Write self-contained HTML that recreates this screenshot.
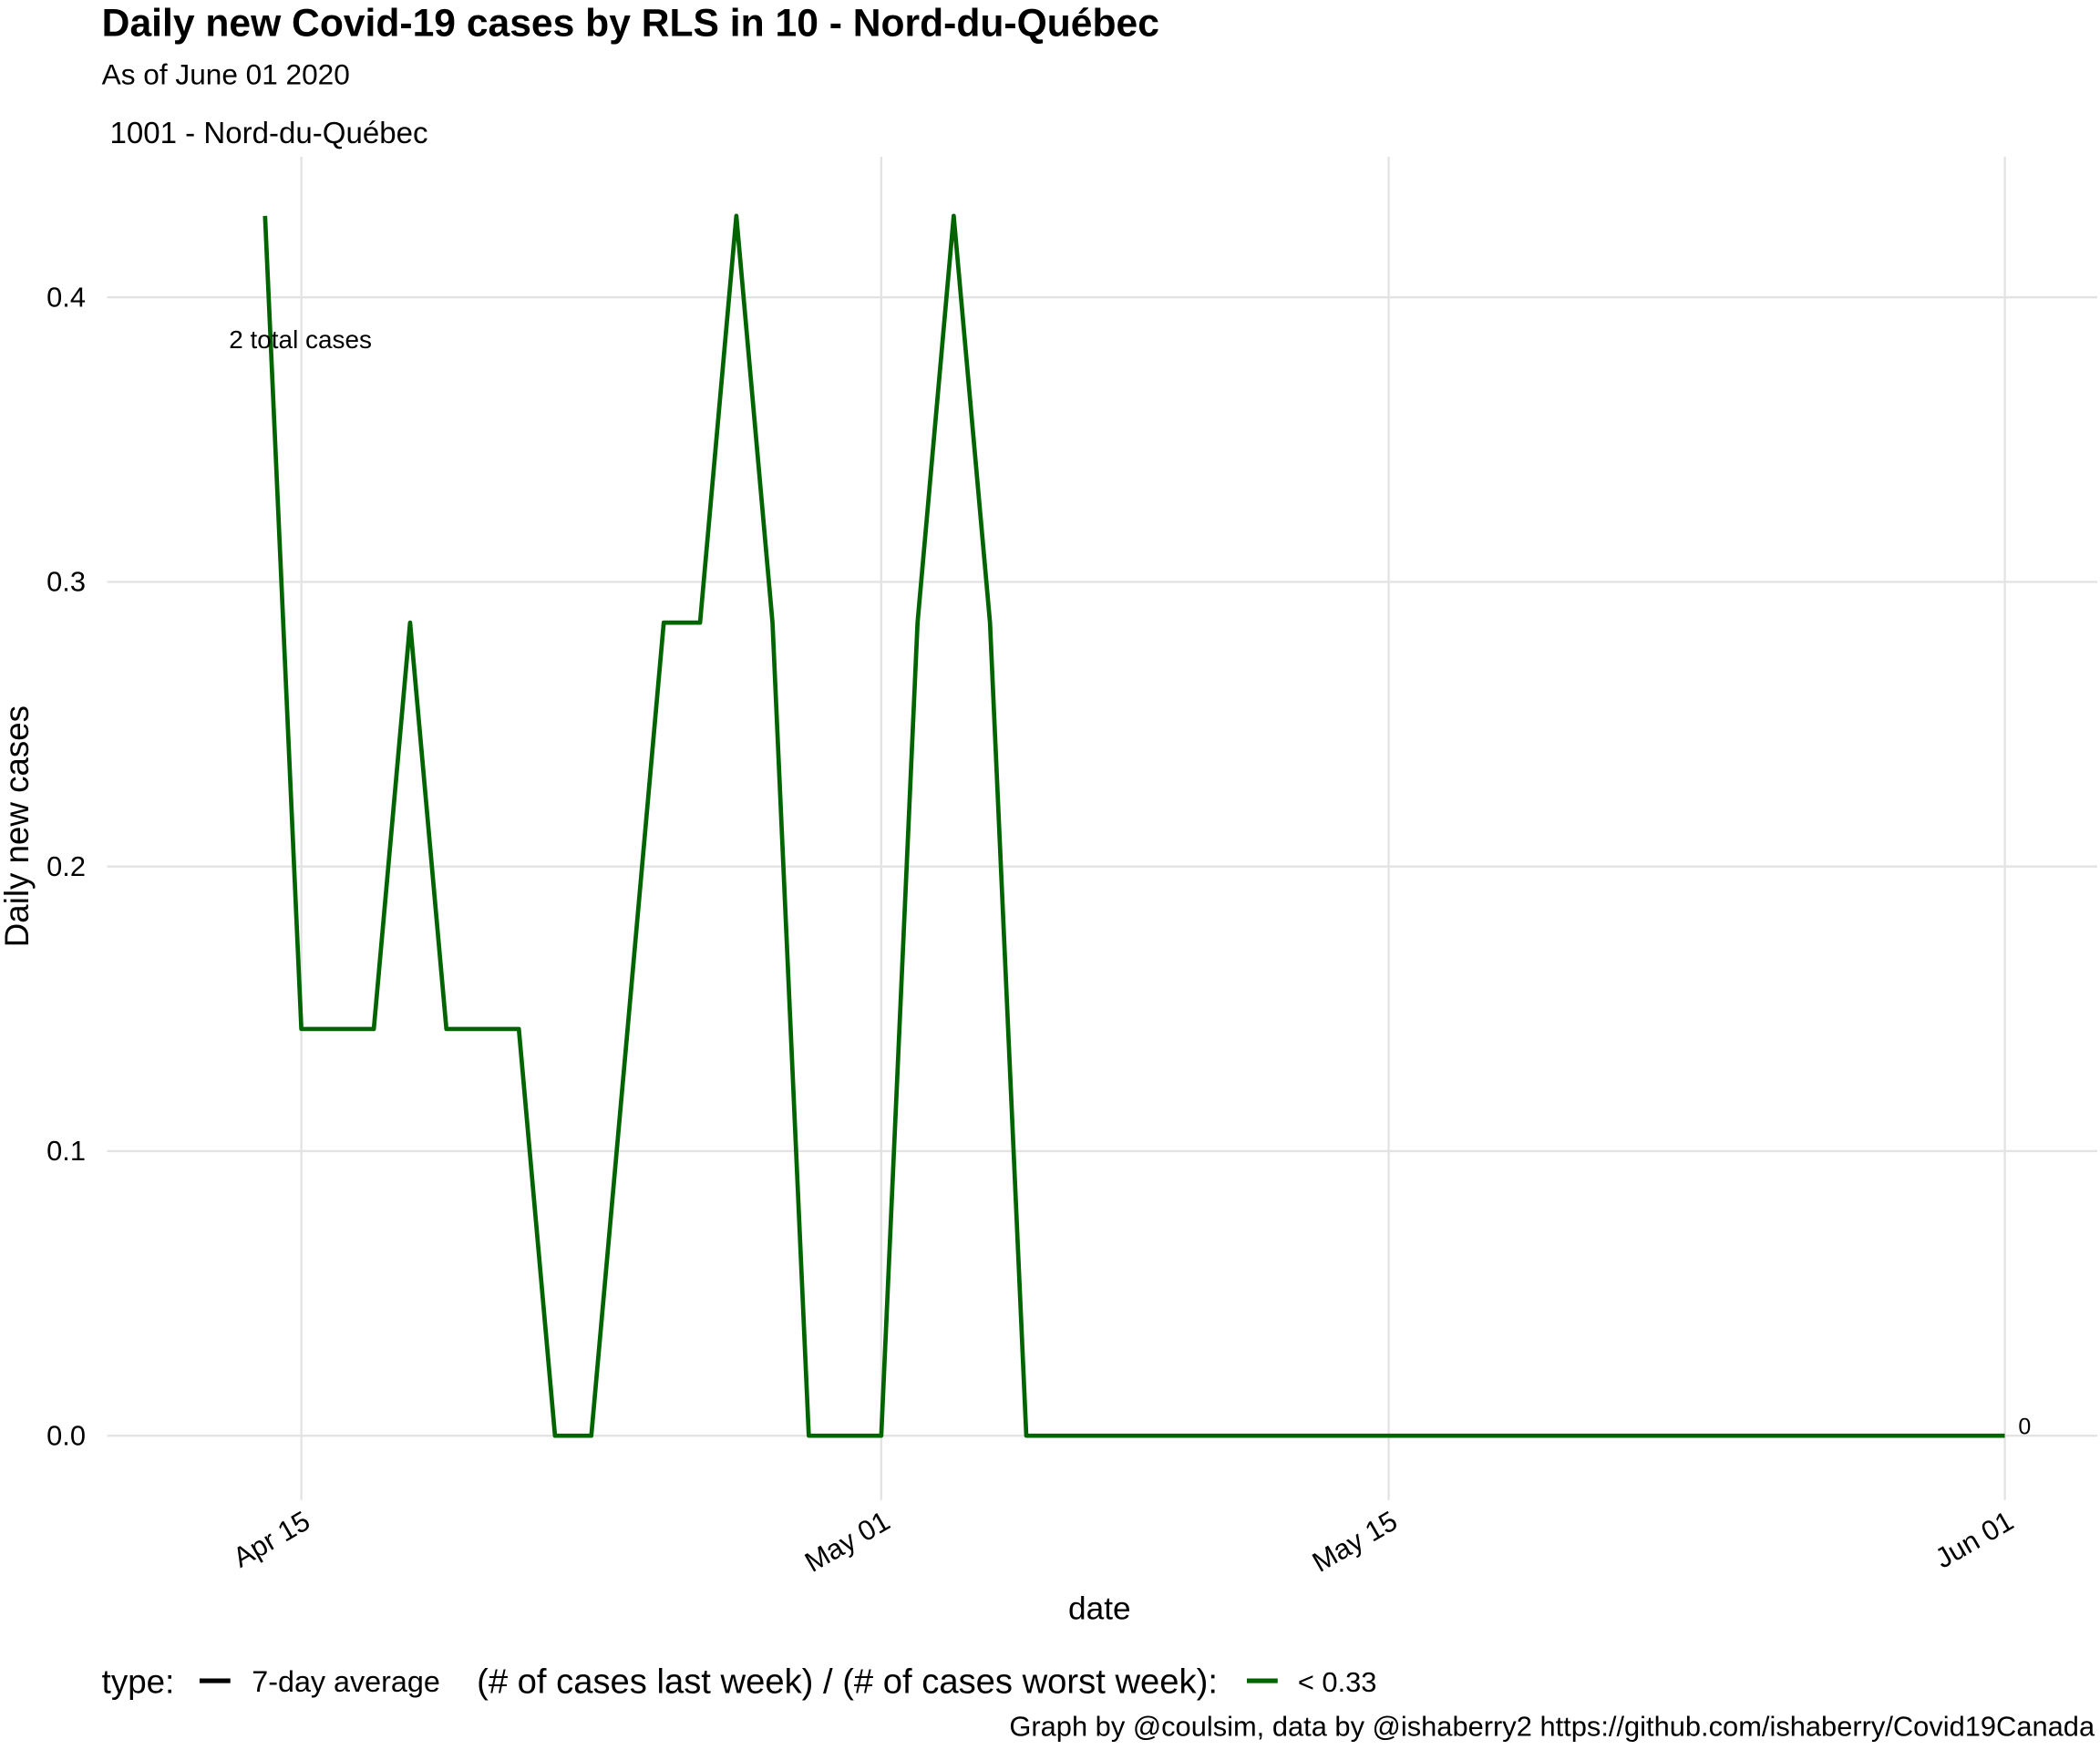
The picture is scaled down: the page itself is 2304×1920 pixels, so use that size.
<!DOCTYPE html>
<html><head><meta charset="utf-8"><style>
html,body{margin:0;padding:0;background:#fff}
svg{display:block;font-family:"Liberation Sans",sans-serif}
</style></head><body>
<svg width="2304" height="1920" viewBox="0 0 1568 1306.67">
<text x="76" y="27" font-size="29" font-weight="bold" fill="#000">Daily new Covid-19 cases by RLS in 10 - Nord-du-Québec</text>
<text x="76" y="63" font-size="21.5" fill="#000">As of June 01 2020</text>
<text x="82" y="107" font-size="22.5" fill="#000">1001 - Nord-du-Québec</text>
<g id="grid"></g>
<g id="yticks"></g>
<g id="xticks"></g>
<path id="line" fill="none" stroke="#006400" stroke-width="3.2" stroke-linejoin="round"/>
<text x="171" y="260" font-size="19" fill="#000">2 total cases</text>
<text x="1507" y="1071" font-size="17" fill="#000">0</text>
<text x="0" y="0" transform="translate(21,617) rotate(-90)" text-anchor="middle" font-size="25" fill="#000">Daily new cases</text>
<text x="821" y="1209" text-anchor="middle" font-size="24" fill="#000">date</text>
<g>
<text x="76" y="1264" font-size="25" fill="#000">type:</text>
<line x1="149" y1="1255" x2="172" y2="1255" stroke="#000" stroke-width="3.5"/>
<text x="188" y="1263" font-size="22" fill="#000">7-day average</text>
<text x="356" y="1264" font-size="26" fill="#000">(# of cases last week) / (# of cases worst week):</text>
<line x1="931" y1="1255" x2="954" y2="1255" stroke="#006400" stroke-width="3.5"/>
<text x="969" y="1263" font-size="21" fill="#000">&lt; 0.33</text>
</g>
<text x="1564" y="1296" text-anchor="end" font-size="21" fill="#000">Graph by @coulsim, data by @ishaberry2 https://github.com/ishaberry/Covid19Canada</text>
</svg>
<script>
const dates = ["2020-04-14","2020-04-15","2020-04-16","2020-04-17","2020-04-18","2020-04-19","2020-04-20","2020-04-21","2020-04-22","2020-04-23","2020-04-24","2020-04-25","2020-04-26","2020-04-27","2020-04-28","2020-04-29","2020-04-30","2020-05-01","2020-05-02","2020-05-03","2020-05-04","2020-05-05","2020-06-01"];
const values = [0.4286,0.1429,0.1429,0.1429,0.2857,0.1429,0.1429,0.1429,0,0,0.1429,0.2857,0.2857,0.4286,0.2857,0,0,0,0.2857,0.4286,0.2857,0,0];
const yTicks = [0,0.1,0.2,0.3,0.4];
const yTickLabels = ["0.0","0.1","0.2","0.3","0.4"];
const xTicks = ["2020-04-15","2020-05-01","2020-05-15","2020-06-01"];
const xTickLabels = ["Apr 15","May 01","May 15","Jun 01"];
const NS="http://www.w3.org/2000/svg";
const day0=Date.UTC(2020,3,15);
function xs(d){const p=d.split("-");const t=Date.UTC(+p[0],+p[1]-1,+p[2]);return 225+(t-day0)/86400000*27.0625;}
function ys(v){return 1072-v*2125;}
const grid=document.getElementById("grid"),yt=document.getElementById("yticks"),xt=document.getElementById("xticks");
yTicks.forEach((v,i)=>{
 const l=document.createElementNS(NS,"line");
 l.setAttribute("x1",80);l.setAttribute("x2",1566);l.setAttribute("y1",ys(v));l.setAttribute("y2",ys(v));
 l.setAttribute("stroke","#e3e3e3");l.setAttribute("stroke-width","1.6");
 
 
 grid.appendChild(l);
 const t=document.createElementNS(NS,"text");
 t.setAttribute("x",64);t.setAttribute("y",ys(v)+7);t.setAttribute("text-anchor","end");t.setAttribute("font-size","21");
 t.textContent=yTickLabels[i];
 
 
 yt.appendChild(t);
});
xTicks.forEach((d,i)=>{
 const x=xs(d);
 const l=document.createElementNS(NS,"line");
 l.setAttribute("x1",x);l.setAttribute("x2",x);l.setAttribute("y1",117);l.setAttribute("y2",1120);
 l.setAttribute("stroke","#e3e3e3");l.setAttribute("stroke-width","1.6");
 
 
 grid.appendChild(l);
 const t=document.createElementNS(NS,"text");
 t.setAttribute("transform","translate("+(x+8)+",1140) rotate(-30)");
 t.setAttribute("text-anchor","end");t.setAttribute("font-size","21");
 t.textContent=xTickLabels[i];
 
 
 xt.appendChild(t);
});
document.getElementById("line").setAttribute("d",dates.map((d,i)=>(i?"L":"M")+xs(d).toFixed(1)+","+ys(values[i]).toFixed(1)).join(" "));
</script>
</body></html>
